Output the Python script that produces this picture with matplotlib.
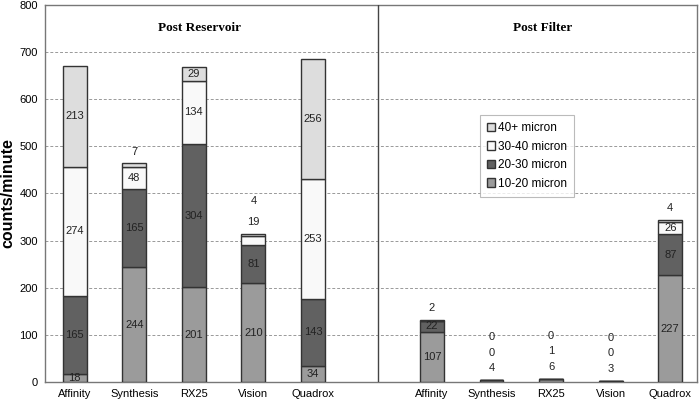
import matplotlib
matplotlib.use("Agg")
import matplotlib.pyplot as plt
from matplotlib.patches import Patch
import numpy as np

categories = ["Affinity", "Synthesis", "RX25", "Vision", "Quadrox"]
series = ["10-20 micron", "20-30 micron", "30-40 micron", "40+ micron"]

# Post Reservoir
res_10_20 = [18, 244, 201, 210, 34]
res_20_30 = [165, 165, 304, 81, 143]
res_30_40 = [274, 48, 134, 19, 253]
res_40p = [213, 7, 29, 4, 256]

# Post Filter (None = no value label shown)
fil_10_20 = [107, 4, 6, 3, 227]
fil_20_30 = [22, 0, 1, 0, 87]
fil_30_40 = [None, 0, 0, 0, 26]
fil_40p = [2, None, None, None, 4]

yticks = [0, 100, 200, 300, 400, 500, 600, 700, 800]

colors = ["#9b9b9b", "#616161", "#f9f9f9", "#dddddd"]
edge = "#333333"

plt.rcParams['font.family'] = ['Liberation Sans', 'DejaVu Sans']

fig = plt.figure(figsize=(7.0, 4.04), dpi=100)
ax = fig.add_axes([45/700, 1-382/404, (697-45)/700, (382-5)/404])

panels = [
    (np.arange(5), [res_10_20, res_20_30, res_30_40, res_40p], 46),
    (np.arange(5) + 6, [fil_10_20, fil_20_30, fil_30_40, fil_40p], 33),
]
# which labels sit above the bar (panel, category index, series index)
outside = {(0, 1, 3), (0, 3, 2), (0, 3, 3), (1, 0, 3), (1, 4, 3),
           (1, 1, 0), (1, 1, 1), (1, 1, 2), (1, 2, 0), (1, 2, 1), (1, 2, 2),
           (1, 3, 0), (1, 3, 1), (1, 3, 2)}
width = 0.4
for p, (xs, data, step) in enumerate(panels):
    bottom = np.zeros(5)
    for s, vals in enumerate(data):
        v = np.array([0 if x is None else x for x in vals], dtype=float)
        ax.bar(xs, v, width, bottom=bottom, color=colors[s], edgecolor=edge,
               linewidth=1.0, zorder=3)
        bottom = bottom + v
    tops = bottom.copy()
    for i in range(5):
        b = 0.0
        n_out = 0
        for s, vals in enumerate(data):
            val = vals[i]
            if val is None:
                continue
            if (p, i, s) in outside:
                y = tops[i] + 25 + n_out * step
                n_out += 1
            else:
                y = b + val / 2
            b += val
            ax.text(xs[i], y, str(val), ha='center', va='center', fontsize=8,
                    color='#222222', zorder=4)

ax.set_xlim(-0.5, 10.45)
ax.set_ylim(0, 800)
ax.set_yticks(yticks)
ax.set_yticklabels([str(t) for t in yticks], fontsize=8)
ax.set_xticks(list(range(5)) + list(range(6, 11)))
ax.set_xticklabels(categories + categories, fontsize=8)
ax.tick_params(length=0, pad=5)
ax.yaxis.grid(True, linestyle=(0, (3, 2)), color='#999999', linewidth=0.7, zorder=0)
for sp in ax.spines.values():
    sp.set_color('#777777')
    sp.set_linewidth(1.0)
ax.axvline(5.1, color='#444444', linewidth=1.0, zorder=5)

ax.set_ylabel("counts/minute", fontsize=11.5, fontweight='bold', labelpad=3)

ax.text(2.1, 751, "Post Reservoir", ha='center', va='center', fontsize=9.5,
        fontweight='bold', family=['Liberation Serif'])
ax.text(7.85, 751, "Post Filter", ha='center', va='center', fontsize=9.5,
        fontweight='bold', family=['Liberation Serif'])

handles = [Patch(facecolor=colors[s], edgecolor=edge, label=series[s]) for s in [3, 2, 1, 0]]
leg = ax.legend(handles=handles, loc='upper left', bbox_to_anchor=(0.667, 0.708),
                prop={'size': 8.5}, frameon=True, fancybox=False, handlelength=0.7,
                handleheight=0.7, handletextpad=0.2, labelspacing=0.55,
                borderpad=0.6, borderaxespad=0)
leg.get_frame().set_edgecolor('#aaaaaa')
leg.get_frame().set_linewidth(0.8)
leg.set_zorder(6)

fig.savefig("out.png", dpi=100)
